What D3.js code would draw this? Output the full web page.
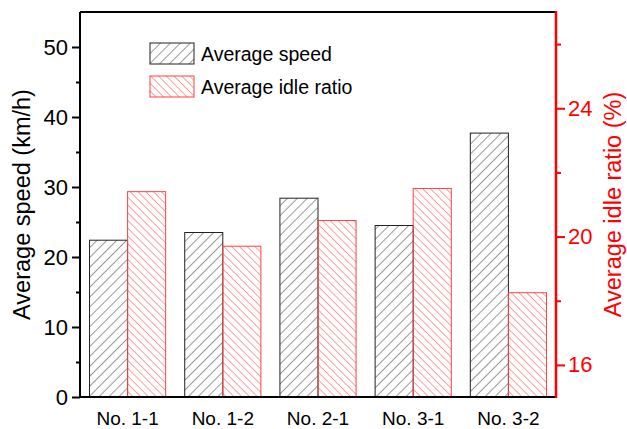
<!DOCTYPE html>
<html>
<head>
<meta charset="utf-8">
<script src="https://cdn.jsdelivr.net/npm/d3@7"></script>
<style>
  html, body { margin: 0; padding: 0; background: #fff; }
  svg { display: block; font-family: "Liberation Sans", Arial, sans-serif; }
</style>
</head>
<body>
<svg id="chart" width="627" height="429"></svg>
<script>
// Test sites and measurements
const sites = ["No. 1-1", "No. 1-2", "No. 2-1", "No. 3-1", "No. 3-2"];
const avgSpeed = [22.4, 23.5, 28.4, 24.5, 37.7];      // km/h
const idleRatio = [21.4, 19.7, 20.5, 21.5, 18.25];     // %
const speedTicks = [0, 10, 20, 30, 40, 50];
const speedMinorTicks = [5, 15, 25, 35, 45];
const idleTicks = [16, 20, 24];
const idleMinorTicks = [18, 22, 26];
const seriesNames = ["Average speed", "Average idle ratio"];

const svg = d3.select("#chart");
const margin = { left: 80, right: 71, top: 12, bottom: 32 };
const W = 627, H = 429;
const x0 = margin.left, x1 = W - margin.right;
const yTop = margin.top, yBot = H - margin.bottom;

const red = "#ff0000";
const hatchRed = "#ff4040";

const x = d3.scaleBand().domain(sites).range([x0, x1]).paddingInner(0.2).paddingOuter(0.1);
const xs = d3.scaleBand().domain([0, 1]).range([0, x.bandwidth()]);
const yL = d3.scaleLinear().domain([0, 55]).range([yBot, yTop]);
const yR = d3.scaleLinear().domain([15, 27]).range([yBot, yTop]);

// Hatch patterns
const defs = svg.append("defs");
defs.append("pattern")
  .attr("id", "hatchBlack").attr("patternUnits", "userSpaceOnUse")
  .attr("width", 7).attr("height", 7)
  .attr("patternTransform", "rotate(45)")
  .append("line").attr("x1", 0).attr("y1", 0).attr("x2", 0).attr("y2", 7)
  .attr("stroke", "#333").attr("stroke-width", 1);
defs.append("pattern")
  .attr("id", "hatchRed").attr("patternUnits", "userSpaceOnUse")
  .attr("width", 5.5).attr("height", 5.5)
  .attr("patternTransform", "rotate(-45)")
  .append("line").attr("x1", 0).attr("y1", 0).attr("x2", 0).attr("y2", 5.5)
  .attr("stroke", hatchRed).attr("stroke-width", 1);

// Bars
const g = svg.append("g");
g.selectAll("rect.speed").data(sites).join("rect")
  .attr("class", "speed")
  .attr("x", d => x(d) + xs(0)).attr("width", xs.bandwidth())
  .attr("y", (d, i) => yL(avgSpeed[i])).attr("height", (d, i) => yBot - yL(avgSpeed[i]))
  .attr("fill", "url(#hatchBlack)").attr("stroke", "#222").attr("stroke-width", 1);
g.selectAll("rect.idle").data(sites).join("rect")
  .attr("class", "idle")
  .attr("x", d => x(d) + xs(1)).attr("width", xs.bandwidth())
  .attr("y", (d, i) => yR(idleRatio[i])).attr("height", (d, i) => yBot - yR(idleRatio[i]))
  .attr("fill", "url(#hatchRed)").attr("stroke", hatchRed).attr("stroke-width", 1);

// Frame: top line
svg.append("line").attr("x1", x0).attr("x2", x1).attr("y1", yTop).attr("y2", yTop)
  .attr("stroke", "#000").attr("stroke-width", 2);

// Left axis
const leftAxis = svg.append("g").attr("transform", `translate(${x0},0)`)
  .call(d3.axisLeft(yL).tickValues(speedTicks).tickSize(8).tickSizeOuter(0).tickPadding(4));
leftAxis.select(".domain").attr("stroke-width", 2).attr("d", `M0,${yTop}V${yBot}`);
leftAxis.selectAll(".tick line").attr("stroke-width", 2);
leftAxis.selectAll("text").attr("font-size", 22).attr("fill", "#000");
svg.append("g").attr("transform", `translate(${x0},0)`)
  .call(d3.axisLeft(yL).tickValues(speedMinorTicks).tickSize(4).tickFormat(""))
  .call(a => a.select(".domain").remove())
  .selectAll("line").attr("stroke-width", 2);

// Bottom axis
const bottomAxis = svg.append("g").attr("transform", `translate(0,${yBot})`)
  .call(d3.axisBottom(x).tickSize(0).tickPadding(15));
bottomAxis.select(".domain").attr("stroke-width", 2).attr("d", `M${x0 - 1},0H${x1}`);
bottomAxis.selectAll("text").attr("font-size", 19).attr("fill", "#000");

// Right axis
const rightAxis = svg.append("g").attr("transform", `translate(${x1},0)`)
  .call(d3.axisRight(yR).tickValues(idleTicks).tickSize(9).tickSizeOuter(0).tickPadding(3));
rightAxis.select(".domain").attr("stroke", red).attr("stroke-width", 2.5).attr("d", `M0,${yTop - 1}V${yBot + 1}`);
rightAxis.selectAll(".tick line").attr("stroke", red).attr("stroke-width", 2);
rightAxis.selectAll("text").attr("font-size", 22).attr("fill", red);
svg.append("g").attr("transform", `translate(${x1},0)`)
  .call(d3.axisRight(yR).tickValues(idleMinorTicks).tickSize(5).tickFormat(""))
  .call(a => a.select(".domain").remove())
  .selectAll("line").attr("stroke", red).attr("stroke-width", 2);

// Axis titles
svg.append("text")
  .attr("transform", `translate(30,${(yTop + yBot) / 2}) rotate(-90)`)
  .attr("text-anchor", "middle").attr("font-size", 23.5).attr("fill", "#000")
  .text("Average speed (km/h)");
svg.append("text")
  .attr("transform", `translate(621,${(yTop + yBot) / 2}) rotate(-90)`)
  .attr("text-anchor", "middle").attr("font-size", 23.5).attr("fill", red)
  .text("Average idle ratio (%)");

// Legend
const legend = svg.append("g").attr("transform", "translate(150,43)");
const legFills = ["url(#hatchBlack)", "url(#hatchRed)"];
const legStrokes = ["#222", hatchRed];
seriesNames.forEach((name, i) => {
  const row = legend.append("g").attr("transform", `translate(0,${i * 33})`);
  row.append("rect").attr("width", 44).attr("height", 21)
    .attr("fill", legFills[i]).attr("stroke", legStrokes[i]).attr("stroke-width", 1);
  row.append("text").attr("x", 51).attr("y", 17.5)
    .attr("font-size", 19.5).attr("fill", "#000").text(name);
});
</script>
</body>
</html>
